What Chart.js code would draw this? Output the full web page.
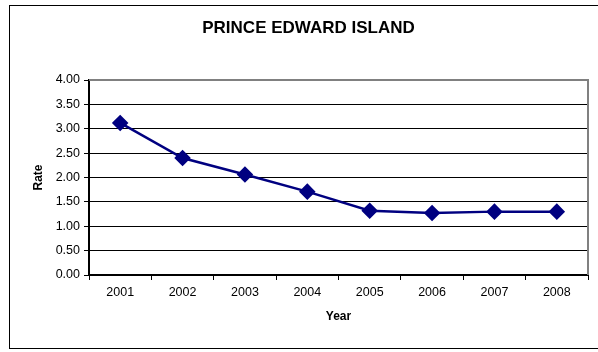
<!DOCTYPE html>
<html>
<head>
<meta charset="utf-8">
<script src="https://cdn.jsdelivr.net/npm/chart.js@4/dist/chart.umd.min.js"></script>
<style>
  html, body { margin: 0; padding: 0; background: #fff; }
  #wrap { width: 598px; height: 352px; }
</style>
</head>
<body>
<div id="wrap"><canvas id="c" width="598" height="352"></canvas></div>
<script>
// Prince Edward Island rate by year
const years = ['2001', '2002', '2003', '2004', '2005', '2006', '2007', '2008'];
const rates = [3.12, 2.40, 2.06, 1.71, 1.32, 1.27, 1.30, 1.30];
const titleText = 'PRINCE EDWARD ISLAND';
const yTitle = 'Rate';
const xTitle = 'Year';

const FONT = "'Liberation Sans', Arial, sans-serif";

// Outer frame, centred heading and grey plot-area edge
const framePlugin = {
  id: 'frame',
  beforeDraw(chart) {
    const ctx = chart.ctx;
    ctx.save();
    ctx.fillStyle = '#fff';
    ctx.fillRect(0, 0, chart.width, chart.height);
    ctx.strokeStyle = '#000';
    ctx.lineWidth = 1;
    ctx.strokeRect(9.5, 5.5, chart.width + 10, 343);
    ctx.fillStyle = '#000';
    ctx.font = 'bold 17px ' + FONT;
    ctx.textAlign = 'center';
    ctx.textBaseline = 'middle';
    ctx.fillText(titleText, 308.5, 28);
    ctx.restore();
  },
  afterDatasetsDraw(chart) {
    const { ctx, chartArea: a } = chart;
    ctx.save();
    ctx.strokeStyle = '#808080';
    ctx.lineWidth = 2;
    ctx.beginPath();
    ctx.moveTo(a.left, a.top);
    ctx.lineTo(a.right, a.top);
    ctx.lineTo(a.right, a.bottom);
    ctx.stroke();
    ctx.restore();
  }
};

new Chart(document.getElementById('c'), {
  type: 'line',
  data: {
    labels: years,
    datasets: [{
      data: rates,
      borderColor: '#000080',
      backgroundColor: '#000080',
      borderWidth: 2.5,
      pointStyle: 'rectRot',
      pointRadius: 6.5,
      pointHoverRadius: 6.5,
      pointBackgroundColor: '#000080',
      pointBorderColor: '#000080',
      tension: 0
    }]
  },
  options: {
    responsive: false,
    animation: false,
    events: [],
    layout: { padding: { top: 80, right: 10, left: 0, bottom: 0 } },
    plugins: {
      legend: { display: false },
      title: { display: false },
      tooltip: { enabled: false }
    },
    scales: {
      x: {
        type: 'category',
        offset: true,
        afterFit(s) { s.height = 77; },
        grid: {
          display: true,
          drawOnChartArea: false,
          drawTicks: true,
          tickLength: 5,
          tickColor: '#000',
          offset: true
        },
        border: { display: true, color: '#000', width: 2 },
        ticks: {
          color: '#000',
          font: { family: FONT, size: 12.5 },
          padding: 5,
          maxRotation: 0
        },
        title: {
          display: true,
          text: xTitle,
          color: '#000',
          font: { family: FONT, size: 12, weight: 'bold' },
          padding: { top: 0, bottom: 28 }
        }
      },
      y: {
        min: 0,
        max: 4,
        afterFit(s) { s.width = 89; },
        grid: {
          color: '#000',
          lineWidth: 1,
          drawTicks: true,
          tickLength: 5,
          tickColor: '#000'
        },
        border: { display: true, color: '#000', width: 2 },
        ticks: {
          stepSize: 0.5,
          color: '#000',
          font: { family: FONT, size: 12.5 },
          padding: 4,
          callback: v => Number(v).toFixed(2)
        },
        title: {
          display: true,
          text: yTitle,
          color: '#000',
          font: { family: FONT, size: 12, weight: 'bold' },
          padding: { top: 31, bottom: 0 }
        }
      }
    }
  },
  plugins: [framePlugin]
});
</script>
</body>
</html>
